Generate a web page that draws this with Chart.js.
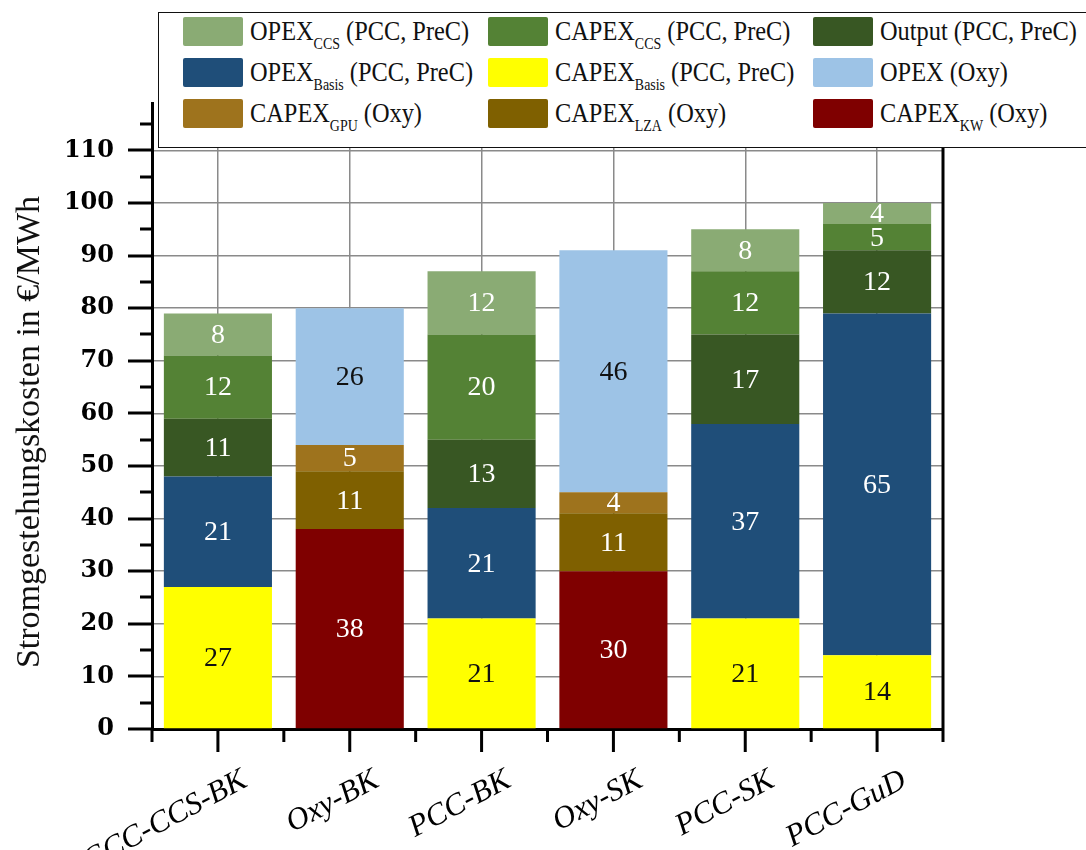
<!DOCTYPE html>
<html lang="de">
<head>
<meta charset="utf-8">
<title>Stromgestehungskosten</title>
<script src="https://cdn.jsdelivr.net/npm/chart.js@4/dist/chart.umd.min.js"></script>
<style>
  html, body { margin: 0; padding: 0; background: #fff; overflow: hidden; }
  #wrap { position: relative; width: 1086px; height: 850px; }
  #chart { position: absolute; left: 0; top: 0; }
  #legend {
    position: absolute; left: 158px; top: 12px; width: 960px; height: 136px;
    background: #fff; border: 1.5px solid #111; box-sizing: border-box;
    font-family: "Liberation Serif", "DejaVu Serif", serif; font-size: 28px; color: #111;
  }
  .item { position: absolute; display: flex; align-items: center; height: 30px; white-space: nowrap; }
  .sw { width: 60px; height: 29px; margin-right: 7px; border-radius: 2px; flex: none; }
  .txt { display: inline-block; transform: scaleX(0.87); transform-origin: 0 50%; }
  .item sub { font-size: 16px; vertical-align: -9px; line-height: 0; }
</style>
</head>
<body>
<div id="wrap">
  <canvas id="chart" width="1086" height="850"></canvas>
  <div id="legend"></div>
</div>
<script>
// Kraftwerkskonzepte
const categories = ['IGCC-CCS-BK', 'Oxy-BK', 'PCC-BK', 'Oxy-SK', 'PCC-SK', 'PCC-GuD'];

// Kostenanteile in €/MWh (von unten nach oben gestapelt)
const capexBasis = [27, null, 21, null, 21, 14];
const opexBasis  = [21, null, 21, null, 37, 65];
const outputPcc  = [11, null, 13, null, 17, 12];
const capexCcs   = [12, null, 20, null, 12, 5];
const opexCcs    = [8,  null, 12, null, 8,  4];
const capexKw    = [null, 38, null, 30, null, null];
const capexLza   = [null, 11, null, 11, null, null];
const capexGpu   = [null, 5,  null, 4,  null, null];
const opexOxy    = [null, 26, null, 46, null, null];

// Achsenbeschriftung
const yTickValues = [0, 10, 20, 30, 40, 50, 60, 70, 80, 90, 100, 110];
const yTitle = 'Stromgestehungskosten in €/MWh';

// Serien: Name, Index, Zusatz, Farbe, Beschriftungsfarbe, Legendenplatz
const series = [
  { data: capexBasis, name: 'CAPEX', sub: 'Basis', tail: ' (PCC, PreC)', color: '#ffff00', text: '#111', slot: 4 },
  { data: opexBasis,  name: 'OPEX',  sub: 'Basis', tail: ' (PCC, PreC)', color: '#1f4e79', text: '#fff', slot: 3 },
  { data: outputPcc,  name: 'Output', sub: '', tail: ' (PCC, PreC)', color: '#385723', text: '#fff', slot: 2 },
  { data: capexCcs,   name: 'CAPEX', sub: 'CCS', tail: ' (PCC, PreC)', color: '#548235', text: '#fff', slot: 1 },
  { data: opexCcs,    name: 'OPEX',  sub: 'CCS', tail: ' (PCC, PreC)', color: '#8aab74', text: '#fff', slot: 0 },
  { data: capexKw,    name: 'CAPEX', sub: 'KW',  tail: ' (Oxy)', color: '#7f0000', text: '#fff', slot: 8 },
  { data: capexLza,   name: 'CAPEX', sub: 'LZA', tail: ' (Oxy)', color: '#7f6000', text: '#fff', slot: 7 },
  { data: capexGpu,   name: 'CAPEX', sub: 'GPU', tail: ' (Oxy)', color: '#9e731d', text: '#fff', slot: 6 },
  { data: opexOxy,    name: 'OPEX',  sub: '',    tail: ' (Oxy)', color: '#9dc3e6', text: '#111', slot: 5 }
];

const serif = '"Liberation Serif", "DejaVu Serif", serif';
const wideSerif = '"DejaVu Serif", "Liberation Serif", serif';
const gridGray = '#8a8a8a';

// Wertebeschriftung mittig in jedem Segment
const segmentLabels = {
  id: 'segmentLabels',
  afterDatasetsDraw(chart) {
    const ctx = chart.ctx;
    ctx.save();
    ctx.font = '28px ' + serif;
    ctx.textAlign = 'center';
    ctx.textBaseline = 'middle';
    chart.data.datasets.forEach((ds, i) => {
      const meta = chart.getDatasetMeta(i);
      meta.data.forEach((bar, j) => {
        const v = ds.data[j];
        if (v === null || v === undefined) return;
        ctx.fillStyle = ds.textColor;
        ctx.fillText(String(v), bar.x, (bar.y + bar.base) / 2 + 1);
      });
    });
    ctx.restore();
  }
};

// Achsenstriche (Haupt- und Nebenstriche), rechter Rahmen, Achsentitel
const axisMarks = {
  id: 'axisMarks',
  afterDraw(chart) {
    const ctx = chart.ctx;
    const xs = chart.scales.x, ys = chart.scales.y;
    const area = chart.chartArea;
    ctx.save();
    ctx.strokeStyle = '#000';
    ctx.lineWidth = 3;
    ctx.lineCap = 'butt';
    ctx.beginPath();
    for (let v = 0; v <= 115; v += 5) {
      const y = Math.round(ys.getPixelForValue(v));
      const len = v % 10 === 0 ? 24 : 12;
      ctx.moveTo(area.left - len, y);
      ctx.lineTo(area.left, y);
    }
    const n = categories.length;
    for (let i = 0; i < n; i++) {
      const x = xs.getPixelForValue(i);
      ctx.moveTo(x, area.bottom);
      ctx.lineTo(x, area.bottom + 23);
    }
    for (let i = 0; i <= n; i++) {
      let x;
      if (i === 0) x = area.left;
      else if (i === n) x = area.right;
      else x = (xs.getPixelForValue(i - 1) + xs.getPixelForValue(i)) / 2;
      ctx.moveTo(x, area.bottom);
      ctx.lineTo(x, area.bottom + 13);
    }
    ctx.moveTo(area.right, area.top);
    ctx.lineTo(area.right, area.bottom);
    ctx.stroke();

    // Titel der y-Achse, etwas unterhalb der Mitte des Zeichenbereichs
    ctx.translate(ys.left + 30, (area.top + area.bottom) / 2 + 16);
    ctx.rotate(-Math.PI / 2);
    ctx.font = '34px ' + serif;
    ctx.fillStyle = '#111';
    ctx.textAlign = 'center';
    ctx.textBaseline = 'middle';
    ctx.fillText(yTitle, 0, 0);
    ctx.restore();
  }
};

const chart = new Chart(document.getElementById('chart'), {
  type: 'bar',
  data: {
    labels: categories,
    datasets: series.map(s => ({
      label: s.name + (s.sub ? ' ' + s.sub : '') + s.tail,
      data: s.data,
      backgroundColor: s.color,
      textColor: s.text,
      borderWidth: 0,
      categoryPercentage: 1,
      barPercentage: 0.82,
      skipNull: true
    }))
  },
  options: {
    responsive: false,
    animation: false,
    layout: { padding: { left: 0, top: 103, right: 143, bottom: 0 } },
    plugins: { legend: { display: false }, tooltip: { enabled: false } },
    scales: {
      x: {
        stacked: true,
        offset: true,
        grid: { offset: false, color: gridGray, lineWidth: 1.5, drawTicks: false },
        border: { display: true, color: '#000', width: 3 },
        ticks: {
          color: '#000',
          font: { family: serif, size: 31, style: 'italic' },
          minRotation: 28, maxRotation: 28,
          padding: 33,
          labelOffset: 27
        },
        afterFit(s) { s.height = 121; }
      },
      y: {
        stacked: true,
        min: 0,
        max: 119,
        afterBuildTicks(s) { s.ticks = yTickValues.map(v => ({ value: v })); },
        grid: {
          color: c => (c.tick && c.tick.value > 0 ? gridGray : 'rgba(0,0,0,0)'),
          lineWidth: 1.5,
          drawTicks: false
        },
        border: { display: true, color: '#000', width: 3 },
        ticks: {
          color: '#000',
          font: { family: wideSerif, size: 24, weight: 'bold' },
          padding: 38
        },
        title: { display: false, text: yTitle },
        afterFit(s) { s.width = 152; }
      }
    }
  },
  plugins: [segmentLabels, axisMarks]
});

// Legende mit tiefgestellten Indizes
const legend = document.getElementById('legend');
const colLeft = [24, 329, 654];
const rowTop = [3, 44, 85];
series.forEach(s => {
  const item = document.createElement('div');
  item.className = 'item';
  item.style.left = colLeft[s.slot % 3] + 'px';
  item.style.top = rowTop[Math.floor(s.slot / 3)] + 'px';
  const sw = document.createElement('span');
  sw.className = 'sw';
  sw.style.background = s.color;
  item.appendChild(sw);
  const label = document.createElement('span');
  label.className = 'txt';
  label.appendChild(document.createTextNode(s.name));
  if (s.sub) {
    const sub = document.createElement('sub');
    sub.textContent = s.sub;
    label.appendChild(sub);
  }
  label.appendChild(document.createTextNode(s.tail));
  item.appendChild(label);
  legend.appendChild(item);
});
</script>
</body>
</html>
